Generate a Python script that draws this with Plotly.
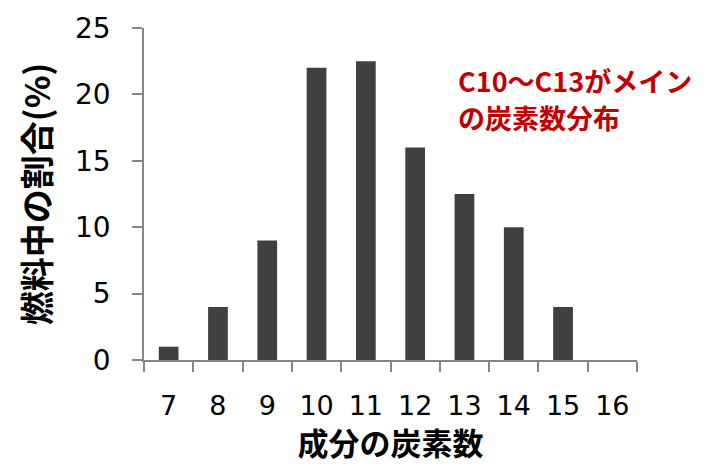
import plotly.graph_objects as go

carbon_numbers = ["7", "8", "9", "10", "11", "12", "13", "14", "15", "16"]
fuel_share = [1, 4, 9, 22, 22.5, 16, 12.5, 10, 4, 0]
y_ticks = [0, 5, 10, 15, 20, 25]

x_title = "成分の炭素数"
y_title = "燃料中の割合(%)"
note_lines = ["C10〜C13がメイン", "の炭素数分布"]

axis_color = "#868686"
bar_color = "#404040"
num_font = "DejaVu Sans"
jp_font = "Noto Sans CJK JP"

fig = go.Figure(
    go.Bar(
        x=carbon_numbers,
        y=fuel_share,
        marker=dict(color=bar_color, line=dict(width=0)),
    )
)

note_y = [0.843, 0.729]
annotations = [
    dict(
        text="<b>" + line + "</b>",
        xref="paper",
        yref="paper",
        x=0.633,
        y=yy,
        xanchor="left",
        yanchor="middle",
        align="left",
        showarrow=False,
        font=dict(family=jp_font, size=27, color="#C00000"),
    )
    for line, yy in zip(note_lines, note_y)
]

fig.update_layout(
    width=726,
    height=464,
    margin=dict(l=144, r=89, t=28, b=104),
    plot_bgcolor="white",
    paper_bgcolor="white",
    bargap=0.6,
    showlegend=False,
    xaxis=dict(
        type="category",
        showline=True,
        linecolor=axis_color,
        linewidth=1.5,
        ticks="outside",
        tickson="boundaries",
        ticklen=10,
        tickcolor=axis_color,
        tickwidth=1.5,
        showgrid=False,
        tickfont=dict(family=num_font, size=27, color="#000000"),
        ticklabelstandoff=21,
        title=dict(
            text="<b>" + x_title + "</b>",
            font=dict(family=jp_font, size=31, color="#000000"),
            standoff=7,
        ),
    ),
    yaxis=dict(
        range=[0, 25],
        tickvals=y_ticks,
        showline=True,
        linecolor=axis_color,
        linewidth=1.5,
        ticks="outside",
        ticklen=10,
        tickcolor=axis_color,
        tickwidth=1.5,
        showgrid=False,
        zeroline=False,
        tickfont=dict(family=num_font, size=28, color="#000000"),
        ticklabelstandoff=16,
        title=dict(
            text="<b>" + y_title + "</b>",
            font=dict(family=jp_font, size=34, color="#000000"),
            standoff=14,
        ),
    ),
    annotations=annotations,
)

fig.write_html("out.html")
